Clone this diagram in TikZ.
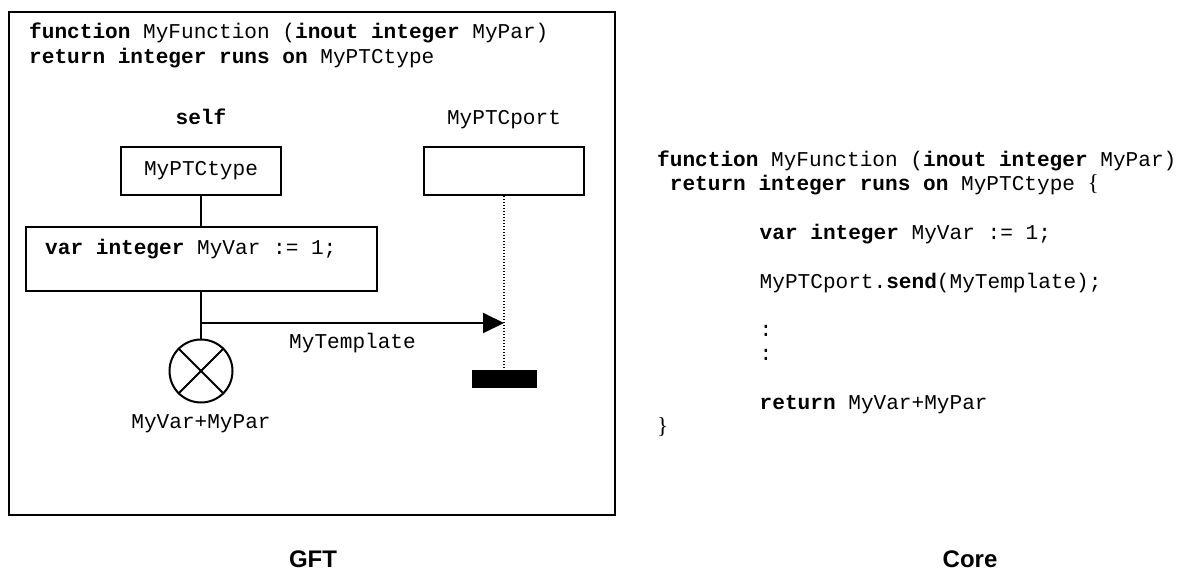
\documentclass[tikz,border=0pt]{standalone}
\usepackage{fontspec}
\setmainfont{Liberation Serif}
\setsansfont{Liberation Sans}
\setmonofont{Liberation Mono}
\usetikzlibrary{arrows.meta}

\tikzset{
  code/.style={font=\ttfamily\fontsize{21.1}{24.3}\selectfont, inner sep=0pt, anchor=base west},
  codemid/.style={code, anchor=base},
  instbox/.style={draw, line width=2pt, minimum width=160pt, minimum height=48pt, inner sep=0pt},
  caption/.style={font=\sffamily\bfseries\fontsize{24}{24}\selectfont, inner sep=0pt, anchor=base}
}

\begin{document}
\begin{tikzpicture}[x=1pt,y=-1pt]
  \useasboundingbox (0,0) rectangle (1180,572);

  % --- GFT frame and heading ---
  \draw[line width=2pt] (9,12.5) rectangle (615,515);
  \node[code] (hdrA) at (29,39) {\textbf{function} MyFunction (\textbf{inout integer} MyPar)};
  \node[code] (hdrB) at (29,63.5) {\textbf{return integer runs on} MyPTCtype};

  % --- instance heads ---
  \node[codemid] (selfname) at (201,125) {\textbf{self}};
  \node[codemid] (portname) at (504,125) {MyPTCport};
  \node[instbox, code, anchor=center] (selfhead) at (201,171) {MyPTCtype};
  \node[instbox] (porthead) at (504,171) {};

  % --- action box ---
  \node[draw, line width=2pt, minimum width=351pt, minimum height=64pt] (varbox) at (201,259) {};
  \node[code] (vartext) at (45,254) {\textbf{var integer} MyVar := 1;};

  % --- return symbol ---
  \node[draw, circle, line width=2pt, minimum size=63pt, inner sep=0pt] (retsym) at (201,371) {};
  \draw[line width=2pt] (retsym.north west) -- (retsym.south east);
  \draw[line width=2pt] (retsym.north east) -- (retsym.south west);
  \node[codemid] (retval) at (201,428) {MyVar+MyPar};

  % --- port stop ---
  \node[fill, minimum width=65pt, minimum height=17.5pt, inner sep=0pt] (stopbar) at (504,378.8) {};

  % --- instance axes ---
  \draw[line width=1.6pt] (selfhead) -- (varbox);
  \draw[line width=1.6pt] (varbox) -- (retsym);
  \draw[line width=1.2pt, dash pattern=on 1.2pt off 1.8pt] (porthead) -- (stopbar);

  % --- send ---
  \coordinate (sendfrom) at (201,323);
  \coordinate (sendto) at (504,323);
  \draw[line width=2pt, -{Triangle[length=21pt,width=20pt]}] (sendfrom) -- (sendto);
  \node[code] (sendlbl) at (289,348) {MyTemplate};

  % --- core notation ---
  \node[code] (coreA) at (657,166.5) {\textbf{function} MyFunction (\textbf{inout integer} MyPar)};
  \node[code] (coreB) at (669.7,190.8) {\textbf{return integer runs on} MyPTCtype {\rmfamily\fontsize{23}{24}\selectfont\{}};
  \node[code] (coreC) at (759.5,239.4) {\textbf{var integer} MyVar := 1;};
  \node[code] (coreD) at (759.5,288) {MyPTCport.\textbf{send}(MyTemplate);};
  \node[code] (coreE) at (759.5,336.6) {:};
  \node[code] (coreF) at (759.5,360.9) {:};
  \node[code] (coreG) at (759.5,409.5) {\textbf{return} MyVar+MyPar};
  \node[code] (coreH) at (657,433.8) {\rmfamily\fontsize{23}{24}\selectfont\}};

  % --- captions ---
  \node[caption] (gftcap) at (313,567.5) {GFT};
  \node[caption] (corecap) at (970,567.5) {Core};

\end{tikzpicture}
\end{document}
